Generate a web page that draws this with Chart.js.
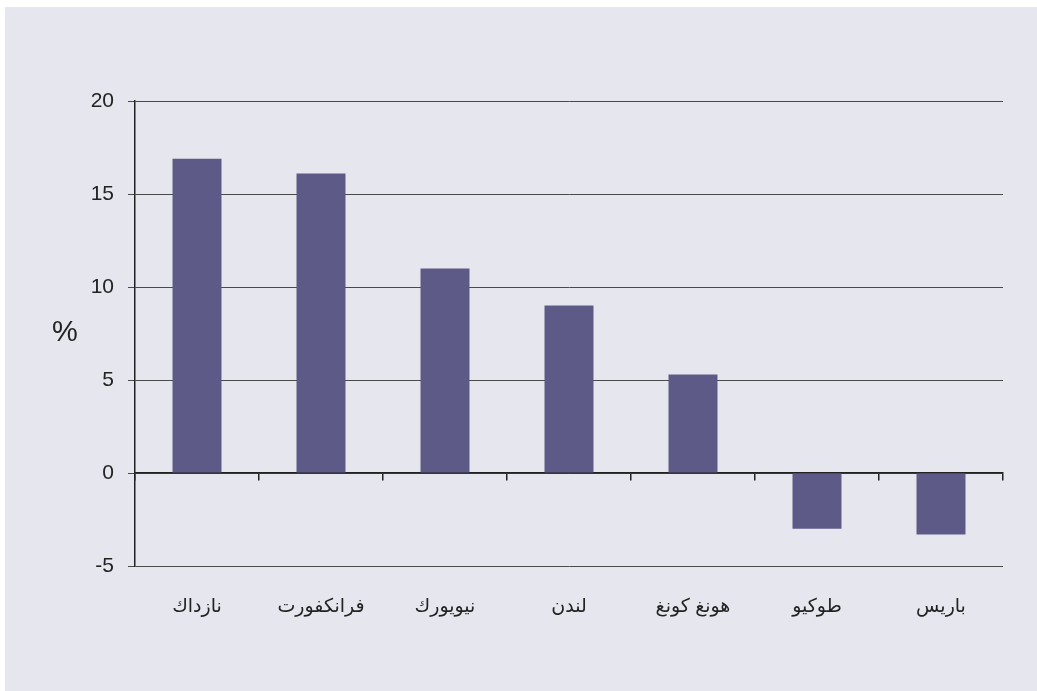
<!DOCTYPE html>
<html>
<head>
<meta charset="utf-8">
<script src="https://cdn.jsdelivr.net/npm/chart.js@4"></script>
<style>
  html, body { margin: 0; padding: 0; background: #fff; }
  #panel { position: absolute; left: 5px; top: 7px; width: 1032px; height: 684px; background: #e6e7ee; }
  canvas { display: block; }
</style>
</head>
<body>
<div id="panel"><canvas id="chart" width="1032" height="684"></canvas></div>
<script>
  // Data
  const cities = ['نازداك', 'فرانكفورت', 'نيويورك', 'لندن', 'هونغ كونغ', 'طوكيو', 'باريس'];
  const changes = [16.9, 16.1, 11.0, 9.0, 5.3, -3.0, -3.3];
  const yMin = -5, yMax = 20, yStep = 5;
  const unitLabel = '%';

  const fontFamily = '"Liberation Sans", Arial, "DejaVu Sans", sans-serif';

  // draw the "%" unit label, unrotated, left of the axis
  const unitPlugin = {
    id: 'unitLabel',
    afterDraw(chart) {
      const ctx = chart.ctx;
      ctx.save();
      ctx.fillStyle = '#222';
      ctx.font = '29px ' + fontFamily;
      ctx.textAlign = 'center';
      ctx.textBaseline = 'middle';
      ctx.fillText(unitLabel, 60, 326);
      ctx.restore();
    }
  };

  new Chart(document.getElementById('chart'), {
    type: 'bar',
    data: {
      labels: cities,
      datasets: [{
        data: changes,
        backgroundColor: '#5e5a87',
        barPercentage: 0.395,
        categoryPercentage: 1,
        xAxisID: 'x'
      }]
    },
    options: {
      responsive: false,
      animation: false,
      layout: { padding: { top: 94, right: 34, left: 0, bottom: 0 } },
      plugins: { legend: { display: false }, tooltip: { enabled: false } },
      scales: {
        x: {
          offset: true,
          grid: { display: false },
          border: { display: false },
          ticks: { color: '#222', padding: 21, font: { size: 19, family: fontFamily } },
          afterFit: s => { s.height = 125; }
        },
        zero: {
          type: 'category',
          axis: 'x',
          labels: cities,
          position: { y: 0 },
          offset: true,
          grid: { offset: true, drawOnChartArea: false, drawTicks: true, tickLength: 7, color: '#222', lineWidth: 1.5 },
          border: { display: true, color: '#222', width: 1.5 },
          ticks: { display: false }
        },
        y: {
          min: yMin,
          max: yMax,
          ticks: { stepSize: yStep, color: '#222', padding: 14, font: { size: 21, family: fontFamily } },
          grid: { color: '#4a4a4a', lineWidth: 1, tickLength: 7 },
          border: { color: '#222', width: 1.5 },
          afterFit: s => { s.width = 130; }
        }
      }
    },
    plugins: [unitPlugin]
  });
</script>
</body>
</html>
